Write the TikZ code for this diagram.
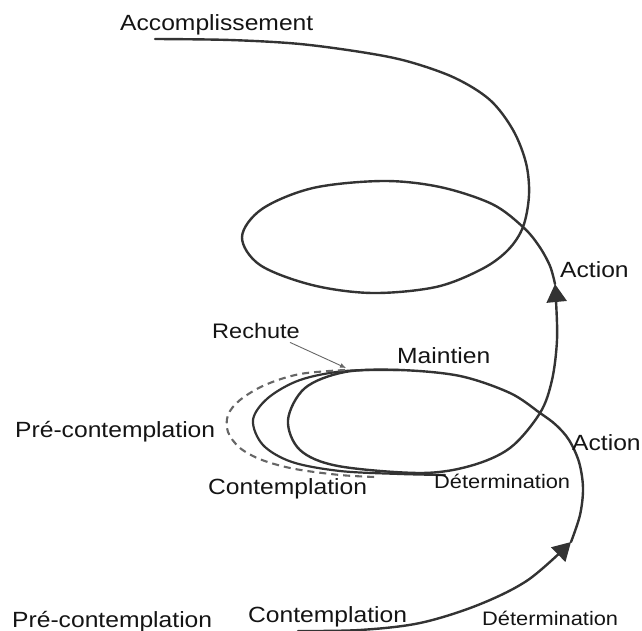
\documentclass[tikz,border=0pt]{standalone}
\usepackage{fontspec}
\setmainfont{Liberation Sans}
\usepackage{graphicx}
\usetikzlibrary{arrows.meta}
\newcommand{\wid}[1]{\scalebox{1.12}[1]{#1}}
\begin{document}
\begin{tikzpicture}[x=1pt,y=-1pt,
  curve/.style={line width=2.4pt, draw=black!80, line cap=round, line join=round},
  relapse/.style={line width=2.1pt, draw=black!60, dash pattern=on 7pt off 5pt},
  tip/.style={-{Triangle[length=18pt,width=20pt]}},
  lbl/.style={anchor=base west, inner sep=0pt, text=black!92, font=\fontsize{22}{26}\selectfont},
  lbls/.style={lbl, font=\fontsize{19.5}{23}\selectfont},
]
\useasboundingbox (0,0) rectangle (642,631);

% lower climb with arrow
\draw[curve,tip] plot[smooth,tension=0.55] coordinates {(298,631) (360,630) (420,623) (478,605) (528,580) (571,542)};
% lower loop up to the upper arrow
\draw[curve,tip] plot[smooth,tension=0.55] coordinates {(571,542) (580,515) (583,488) (579,462) (569,440) (556,425) (540,413) (510,393) (460,376) (400,370) (345,372) (305,388) (288,420) (300,450) (338,466) (420,473) (470,466) (510,448) (540,413) (552,380) (557,340) (556,300) (555,284)};
% upper loop to accomplissement
\draw[curve] plot[smooth,tension=0.55] coordinates {(555,284) (550,266) (539,246) (523,227) (492,204) (440,187) (383,181) (313,188) (262,209) (242,237) (260,265) (312,285) (372,293) (436,287) (482,269) (508,250) (523,227) (529,195) (526,163) (513,130) (490,100) (455,78) (410,62) (367,53) (300,44) (230,40) (155,39)};

% relapse loops
\draw[curve,line width=2.2pt] plot[smooth,tension=0.55] coordinates {(400,370) (345,371) (300,380) (268,398) (253,420) (263,445) (292,462) (340,471) (400,474) (445,475)};
\draw[relapse] plot[smooth,tension=0.55] coordinates {(345,370) (300,374) (265,385) (240,400) (228,415) (228,432) (240,448) (262,460) (295,469) (340,475) (375,477)};

% labels
\node[lbl] (acc) at (120,31) {\wid{Accomplissement}};
\node[lbl] (act1) at (560,277) {\wid{Action}};
\node[lbl,font=\fontsize{21}{25}\selectfont] (rech) at (212,338) {\wid{Rechute}};
\node[lbl] (main) at (397,363) {\wid{Maintien}};
\node[lbl] (pre1) at (15,437) {\wid{Pré-contemplation}};
\node[lbl] (con1) at (208,494) {\wid{Contemplation}};
\node[lbls] (det1) at (434,488) {\wid{Détermination}};
\node[lbl] (act2) at (572,450) {\wid{Action}};
\node[lbl] (pre2) at (12,627) {\wid{Pré-contemplation}};
\node[lbl] (con2) at (248,622) {\wid{Contemplation}};
\node[lbls] (det2) at (482,625) {\wid{Détermination}};

\coordinate (rtip) at (346,368);
\draw[black!60, line width=0.9pt, -{Latex[length=6pt,width=5pt]}] ([xshift=-10pt,yshift=-4pt]rech.south east) -- (rtip);
\end{tikzpicture}
\end{document}
